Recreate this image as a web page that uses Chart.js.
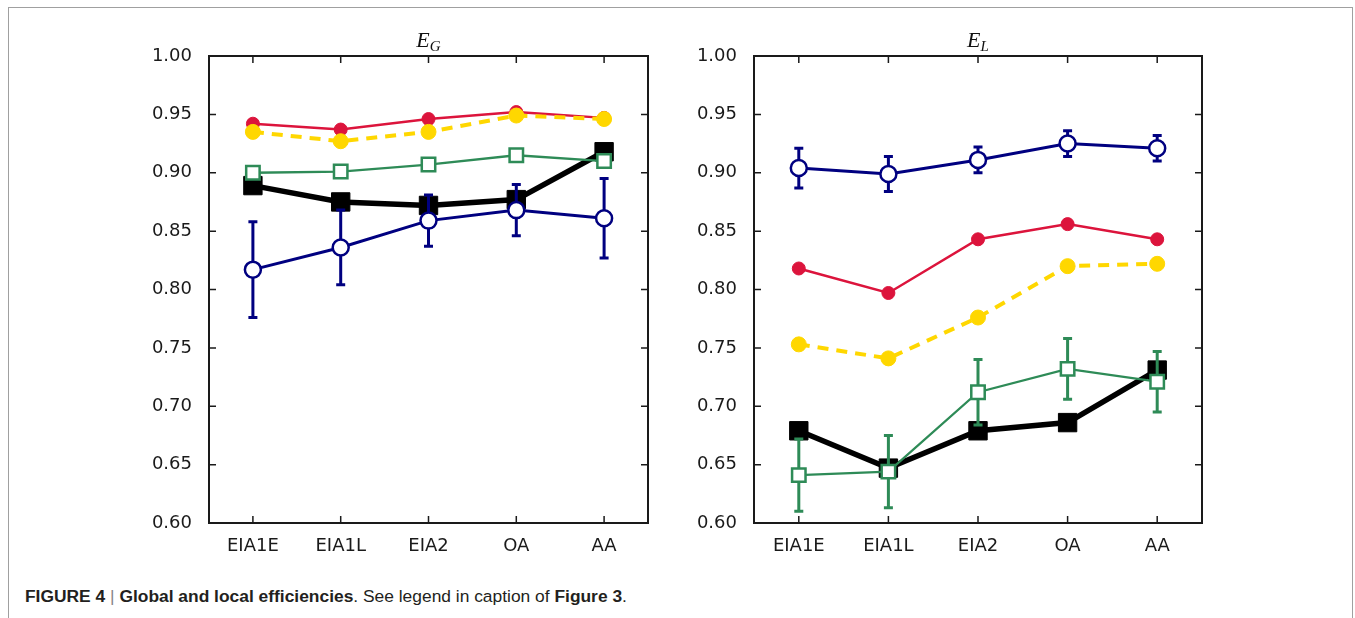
<!DOCTYPE html>
<html>
<head>
<meta charset="utf-8">
<script src="https://cdn.jsdelivr.net/npm/chart.js@4.4.0/dist/chart.umd.min.js"></script>
<style>
    body { margin: 0; background: #fff; width: 1355px; height: 618px; overflow: hidden; position: relative; }
    #frame { position: absolute; left: 8px; top: 7px; width: 1345px; height: 700px; border: 1.5px solid #a0a0a0; box-sizing: border-box; }
    canvas { position: absolute; }
    .ttl { position: absolute; top: 29px; text-align: center; font-family: 'Liberation Serif', serif; font-style: italic; font-size: 22px; line-height: 21px; color: #111; }
    .ttl sub { font-size: 15px; vertical-align: -4px; line-height: 0; }
    #caption { position: absolute; left: 25px; top: 588px; font-family: 'Liberation Sans', Arial, sans-serif; font-size: 17.4px; line-height: 17px; color: #231f20; white-space: nowrap; }
    #caption b { font-weight: bold; }
    #caption .bar { color: #888; font-weight: normal; }
</style>
</head>
<body>
<div id="frame"></div>
<canvas id="chart-eg" width="522" height="524" style="left:140px; top:42px;"></canvas>
<canvas id="chart-el" width="531" height="524" style="left:685px; top:42px;"></canvas>
<div class="ttl" style="left:209px; width:439px;">E<sub>G</sub></div>
<div class="ttl" style="left:754px; width:448px;">E<sub>L</sub></div>
<div id="caption"><b>FIGURE 4</b> <span class="bar">|</span> <b>Global and local efficiencies</b>. See legend in caption of <b>Figure 3</b>.</div>
<script>
const categories = ['EIA1E', 'EIA1L', 'EIA2', 'OA', 'AA'];
const yTickValues = [0.60, 0.65, 0.70, 0.75, 0.80, 0.85, 0.90, 0.95, 1.00];

// global efficiency E_G
const egRed = [0.942, 0.937, 0.946, 0.952, 0.947];
const egYellow = [0.935, 0.927, 0.935, 0.949, 0.946];
const egGreen = [0.900, 0.901, 0.907, 0.915, 0.910];
const egGreenErr = [0.004, 0.004, 0.004, 0.004, 0.004];
const egBlack = [0.889, 0.875, 0.872, 0.877, 0.918];
const egBlue = [0.817, 0.836, 0.859, 0.868, 0.861];
const egBlueErr = [0.041, 0.032, 0.022, 0.022, 0.034];

// local efficiency E_L
const elRed = [0.818, 0.797, 0.843, 0.856, 0.843];
const elYellow = [0.753, 0.741, 0.776, 0.820, 0.822];
const elGreen = [0.641, 0.644, 0.712, 0.732, 0.721];
const elGreenErr = [0.031, 0.031, 0.028, 0.026, 0.026];
const elBlack = [0.679, 0.647, 0.679, 0.686, 0.731];
const elBlue = [0.904, 0.899, 0.911, 0.925, 0.921];
const elBlueErr = [0.017, 0.015, 0.011, 0.011, 0.011];

const RED = '#dc143c';
const GOLD = '#ffd700';
const GREEN = '#2e8b57';
const NAVY = '#000080';
const AXIS = '#1a1a1a';

// error bars go under each dataset's line and markers
const errorBars = {
    id: 'errorBars',
    beforeDatasetDraw(chart, args) {
        const ds = chart.data.datasets[args.index];
        if (!ds.errors) return;
        const ctx = chart.ctx;
        const y = chart.scales.y;
        ctx.save();
        ctx.strokeStyle = ds.borderColor;
        ctx.lineWidth = 3;
        args.meta.data.forEach((pt, i) => {
            const e = ds.errors[i];
            if (!e) return;
            const top = y.getPixelForValue(ds.data[i] + e);
            const bot = y.getPixelForValue(ds.data[i] - e);
            ctx.beginPath();
            ctx.moveTo(pt.x, top); ctx.lineTo(pt.x, bot);
            ctx.moveTo(pt.x - 4.5, top); ctx.lineTo(pt.x + 4.5, top);
            ctx.moveTo(pt.x - 4.5, bot); ctx.lineTo(pt.x + 4.5, bot);
            ctx.stroke();
        });
        ctx.restore();
    }
};

// matplotlib style box with inward ticks on all sides
const boxFrame = {
    id: 'boxFrame',
    afterDatasetsDraw(chart) {
        const { ctx, chartArea: a, scales } = chart;
        ctx.save();
        ctx.strokeStyle = AXIS;
        ctx.lineWidth = 1.5;
        ctx.beginPath();
        scales.y.ticks.forEach(t => {
            const py = scales.y.getPixelForValue(t.value);
            ctx.moveTo(a.left, py); ctx.lineTo(a.left + 7, py);
            ctx.moveTo(a.right, py); ctx.lineTo(a.right - 7, py);
        });
        categories.forEach((c, i) => {
            const px = scales.x.getPixelForValue(i);
            ctx.moveTo(px, a.bottom); ctx.lineTo(px, a.bottom - 7);
            ctx.moveTo(px, a.top); ctx.lineTo(px, a.top + 7);
        });
        ctx.stroke();
        ctx.lineWidth = 2;
        ctx.strokeRect(a.left, a.top, a.right - a.left, a.bottom - a.top);
        ctx.restore();
    }
};

function series(data, color, opts) {
    return Object.assign({
        data: data,
        borderColor: color,
        backgroundColor: color,
        pointBackgroundColor: color,
        pointBorderColor: color,
        pointBorderWidth: 1,
        tension: 0,
        fill: false
    }, opts);
}

function makePanel(id, red, yellow, green, greenErr, black, blue, blueErr) {
    const ctx = document.getElementById(id).getContext('2d');
    return new Chart(ctx, {
        type: 'line',
        data: {
            labels: categories,
            datasets: [
                series(blue, NAVY, { errors: blueErr, order: 1, borderWidth: 3, pointStyle: 'circle', pointRadius: 8, pointBackgroundColor: '#fff', pointBorderWidth: 2.5 }),
                series(green, GREEN, { errors: greenErr, order: 2, borderWidth: 2.3, pointStyle: 'rect', pointRadius: 9.5, pointBackgroundColor: '#fff', pointBorderWidth: 2.5 }),
                series(yellow, GOLD, { order: 3, borderWidth: 4, borderDash: [11, 8], pointStyle: 'circle', pointRadius: 7.5 }),
                series(red, RED, { order: 4, borderWidth: 2.5, pointStyle: 'circle', pointRadius: 6.5 }),
                series(black, '#000', { order: 5, borderWidth: 5.5, pointStyle: 'rect', pointRadius: 13 })
            ]
        },
        options: {
            responsive: false,
            animation: false,
            events: [],
            // 14px matches the largest marker overflow Chart.js reserves anyway
            layout: { padding: { top: 14, right: 14, left: 0, bottom: 0 } },
            plugins: { legend: { display: false }, tooltip: { enabled: false }, title: { display: false } },
            scales: {
                x: {
                    type: 'category',
                    offset: true,
                    grid: { display: false, drawTicks: false },
                    border: { display: false },
                    ticks: { color: AXIS, padding: 13, font: { family: 'DejaVu Sans', size: 18 }, maxRotation: 0 },
                    afterFit(s) { s.height = 43; s.paddingLeft = 0; s.paddingRight = 0; }
                },
                y: {
                    min: 0.6,
                    max: 1.0,
                    grid: { display: false, drawTicks: false },
                    border: { display: false },
                    afterBuildTicks(s) { s.ticks = yTickValues.map(v => ({ value: v })); },
                    ticks: { color: AXIS, padding: 17, font: { family: 'DejaVu Sans', size: 18 }, callback: v => Number(v).toFixed(2) },
                    afterFit(s) { s.width = 69; s.paddingTop = 0; s.paddingBottom = 0; }
                }
            }
        },
        plugins: [errorBars, boxFrame]
    });
}

makePanel('chart-eg', egRed, egYellow, egGreen, egGreenErr, egBlack, egBlue, egBlueErr);
makePanel('chart-el', elRed, elYellow, elGreen, elGreenErr, elBlack, elBlue, elBlueErr);
</script>
</body>
</html>
